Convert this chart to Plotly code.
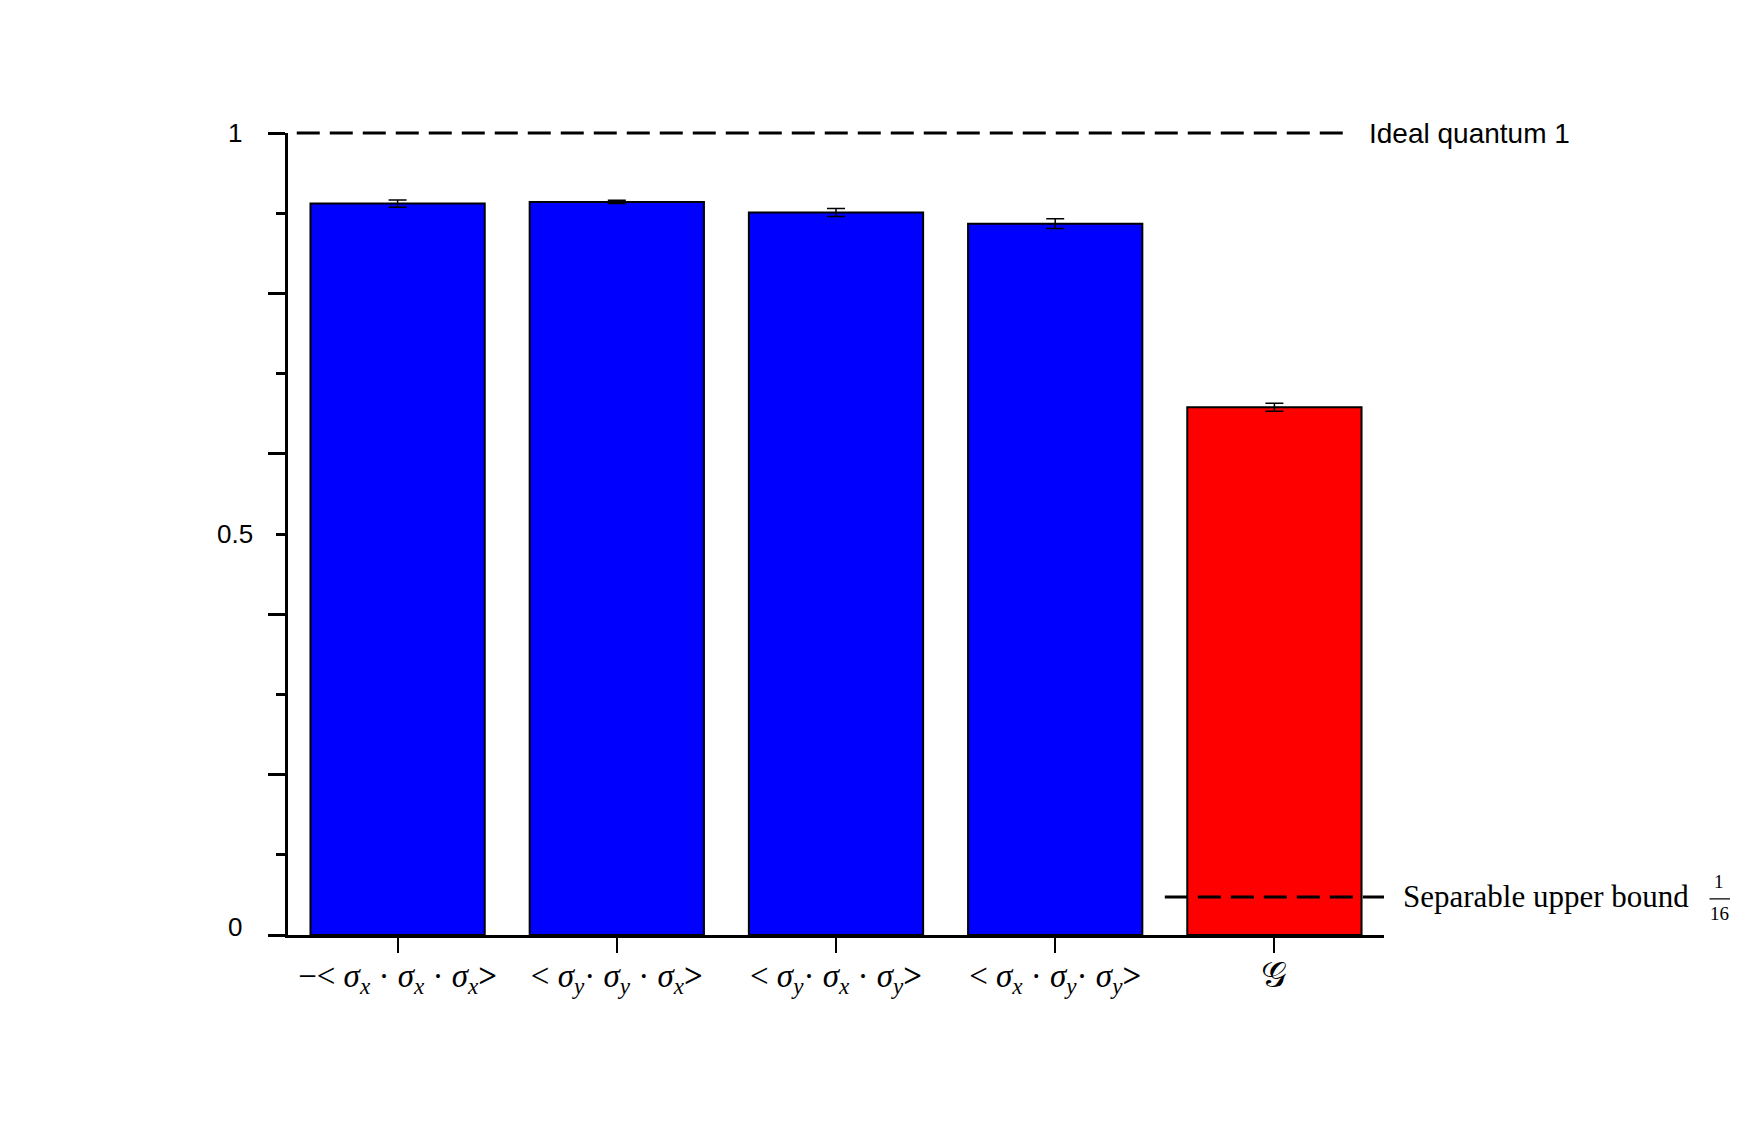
import plotly.graph_objects as go

# ---- data ----
categories = [
    "−< <i>σ<sub>x</sub></i> · <i>σ<sub>x</sub></i> · <i>σ<sub>x</sub></i><b>></b>",
    "< <i>σ<sub>y</sub></i>· <i>σ<sub>y</sub></i> · <i>σ<sub>x</sub></i><b>></b>",
    "< <i>σ<sub>y</sub></i>· <i>σ<sub>x</sub></i> · <i>σ<sub>y</sub></i><b>></b>",
    "< <i>σ<sub>x</sub></i> · <i>σ<sub>y</sub></i>· <i>σ<sub>y</sub></i><b>></b>",
    "<span style='font-size:36px'>𝒢</span>",
]
values = [0.912, 0.914, 0.901, 0.887, 0.658]
errors = [0.0045, 0.002, 0.005, 0.006, 0.005]
colors = ["#0000FF", "#0000FF", "#0000FF", "#0000FF", "#FF0000"]

ideal_value = 1.0
ideal_label = "Ideal quantum 1"
ideal_span = [-0.46, 4.32]

sep_value = 0.0475          # drawn position of the separable bound line
sep_label = "Separable upper bound"
sep_span = [3.5, 4.5]

y_major = [0, 0.2, 0.4, 0.6, 0.8, 1.0]
y_minor = [0.1, 0.3, 0.5, 0.7, 0.9]
y_labels_vals = [0, 0.5, 1]
y_labels_text = ["0", "0.5", "1"]

xpos = list(range(len(categories)))

fig = go.Figure()
fig.add_trace(go.Bar(
    x=xpos, y=values,
    marker=dict(color=colors, line=dict(color="black", width=2)),
    error_y=dict(type="data", array=errors, color="black", thickness=1.5, width=9),
    width=0.795,
    showlegend=False,
))

# y range is [0,1] on full domain, so paper y equals data y here (avoids clipping at the top edge)
fig.add_shape(type="line", xref="x", yref="paper", x0=ideal_span[0], x1=ideal_span[1],
              y0=ideal_value, y1=ideal_value,
              line=dict(color="black", width=3, dash="23px,10px"))
fig.add_shape(type="line", xref="x", yref="y", x0=sep_span[0], x1=sep_span[1],
              y0=sep_value, y1=sep_value,
              line=dict(color="black", width=3, dash="23px,10px"))

# centred y tick labels
for v, t in zip(y_labels_vals, y_labels_text):
    fig.add_annotation(x=0, y=v, xref="paper", yref="y", text=t, showarrow=False,
                       xanchor="center", xshift=-53, yshift=8 if v == 0 else 0,
                       font=dict(family="Liberation Sans, Arial", size=26, color="black"))

fig.add_annotation(x=ideal_span[1], y=ideal_value, xref="x", yref="y", text=ideal_label,
                   showarrow=False, xanchor="left", xshift=22,
                   font=dict(family="Liberation Sans, Arial", size=28, color="black"))
fig.add_annotation(x=sep_span[1], y=sep_value, xref="x", yref="y", text=sep_label,
                   showarrow=False, xanchor="left", xshift=17,
                   font=dict(family="Liberation Serif, serif", size=31, color="black"))
fig.add_annotation(x=sep_span[1], y=sep_value, xref="x", yref="y", text="1",
                   showarrow=False, xanchor="center", xshift=335, yshift=15,
                   font=dict(family="Liberation Serif, serif", size=19, color="black"))
fig.add_annotation(x=sep_span[1], y=sep_value, xref="x", yref="y", text="16",
                   showarrow=False, xanchor="center", xshift=335, yshift=-17,
                   font=dict(family="Liberation Serif, serif", size=19, color="black"))
fig.add_annotation(x=sep_span[1], y=sep_value, xref="x", yref="y", text="",
                   showarrow=True, arrowhead=0, arrowwidth=1.2, arrowcolor="black",
                   ax=-22, ay=0, xshift=346, yshift=-2)

fig.update_layout(
    width=1748, height=1106,
    margin=dict(l=280, r=372, t=125, b=179),
    plot_bgcolor="white", paper_bgcolor="white",
    bargap=0.2,
    xaxis=dict(
        range=[-0.5, 4.5], tickvals=xpos, ticktext=categories,
        showline=True, linecolor="black", linewidth=3,
        ticks="outside", ticklen=15, tickwidth=2, tickcolor="black",
        showgrid=False, zeroline=False, ticklabelstandoff=-6,
        tickfont=dict(family="Liberation Serif, DejaVu Serif, serif", size=33, color="black"),
    ),
    yaxis=dict(
        range=[0, 1], tickvals=y_major, ticktext=[""] * len(y_major),
        showline=True, linecolor="black", linewidth=3,
        ticks="outside", ticklen=17, tickwidth=3, tickcolor="black",
        minor=dict(tickvals=y_minor, ticks="outside", ticklen=9, tickwidth=3, tickcolor="black"),
        showgrid=False, zeroline=False,
    ),
)

fig.write_html("out.html")
